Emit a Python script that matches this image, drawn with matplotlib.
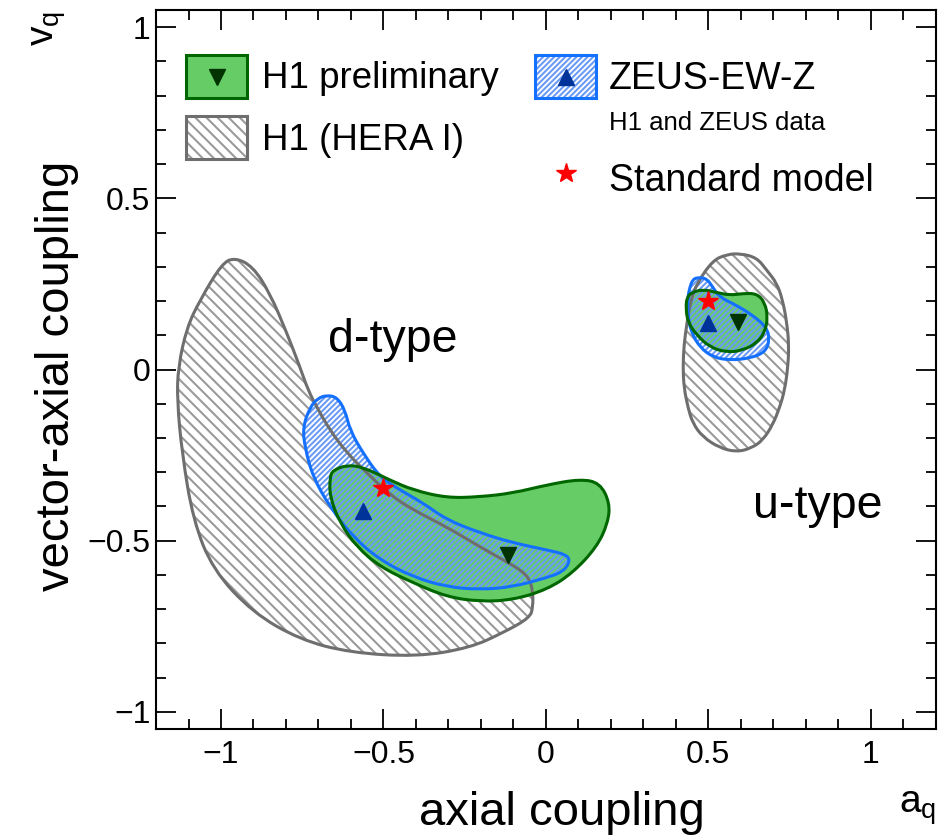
import numpy as np
import matplotlib.pyplot as plt
from matplotlib.patches import PathPatch, Rectangle
from matplotlib.path import Path
from matplotlib.ticker import MultipleLocator, FuncFormatter

plt.rcParams['font.family'] = ['Liberation Sans', 'DejaVu Sans']
plt.rcParams['hatch.linewidth'] = 1.5

# ---- contour outlines (a_q, v_q) ----
# H1 (HERA I), d-type
h1old_d_a = [-0.957, -0.902, -0.849, -0.797, -0.757, -0.732, -0.705, -0.665, -0.612, -0.551,
             -0.480, -0.409, -0.305, -0.203, -0.120, -0.074, -0.049, -0.040, -0.040, -0.049,
             -0.132, -0.234, -0.397, -0.603, -0.757, -0.902, -1.025, -1.086, -1.120, -1.135,
             -1.132, -1.105, -1.065, -0.997]
h1old_d_v = [0.327, 0.301, 0.222, 0.106, 0.007, -0.060, -0.110, -0.177, -0.244, -0.302,
             -0.366, -0.410, -0.460, -0.518, -0.562, -0.588, -0.614, -0.652, -0.693, -0.725,
             -0.769, -0.813, -0.839, -0.827, -0.789, -0.710, -0.585, -0.439, -0.244, -0.090,
             0.007, 0.123, 0.202, 0.310]
# H1 (HERA I), u-type
h1old_u_a = [0.597, 0.649, 0.680, 0.711, 0.729, 0.742, 0.748, 0.745, 0.735, 0.720, 0.698,
             0.668, 0.634, 0.588, 0.535, 0.483, 0.452, 0.437, 0.425, 0.422, 0.425, 0.434,
             0.446, 0.465, 0.514, 0.557]
h1old_u_v = [0.339, 0.327, 0.290, 0.252, 0.202, 0.135, 0.071, 0.007, -0.060, -0.110, -0.162,
             -0.206, -0.229, -0.241, -0.229, -0.197, -0.157, -0.110, -0.052, 0.007, 0.071,
             0.135, 0.202, 0.252, 0.319, 0.336]

# H1 preliminary, d-type
h1_d_a = [-0.655, -0.612, -0.563, -0.480, -0.409, -0.305, -0.203, -0.102, 0.003, 0.105,
          0.166, 0.197, 0.191, 0.157, 0.083, 0.003, -0.102, -0.203, -0.305, -0.409,
          -0.511, -0.582, -0.634, -0.665, -0.665]
h1_d_v = [-0.294, -0.279, -0.285, -0.323, -0.352, -0.375, -0.372, -0.361, -0.337, -0.320,
          -0.331, -0.390, -0.448, -0.518, -0.594, -0.643, -0.673, -0.678, -0.664, -0.623,
          -0.576, -0.518, -0.448, -0.372, -0.314]
# H1 preliminary, u-type
h1_u_a = [0.434, 0.449, 0.483, 0.526, 0.566, 0.606, 0.649, 0.674, 0.683, 0.674, 0.649,
          0.606, 0.557, 0.505, 0.465, 0.437, 0.431]
h1_u_v = [0.211, 0.225, 0.234, 0.225, 0.217, 0.222, 0.222, 0.196, 0.152, 0.109, 0.077,
          0.056, 0.050, 0.065, 0.100, 0.138, 0.179]

# ZEUS-EW-Z, d-type
zeus_d_a = [-0.674, -0.643, -0.618, -0.603, -0.563, -0.511, -0.449, -0.378, -0.305, -0.203,
            -0.102, 0.003, 0.065, 0.074, 0.052, 0.003, -0.102, -0.203, -0.305, -0.409,
            -0.511, -0.594, -0.665, -0.717, -0.742, -0.748, -0.726, -0.702]
zeus_d_v = [-0.075, -0.081, -0.119, -0.177, -0.244, -0.314, -0.352, -0.390, -0.439, -0.477,
            -0.506, -0.527, -0.541, -0.562, -0.591, -0.608, -0.635, -0.643, -0.635, -0.606,
            -0.556, -0.489, -0.401, -0.314, -0.227, -0.168, -0.110, -0.084]
# ZEUS-EW-Z, u-type
zeus_u_a = [0.468, 0.495, 0.514, 0.535, 0.588, 0.637, 0.680, 0.689, 0.674, 0.628, 0.566,
            0.514, 0.474, 0.449, 0.437, 0.437, 0.443, 0.452]
zeus_u_v = [0.269, 0.266, 0.240, 0.211, 0.187, 0.158, 0.123, 0.085, 0.050, 0.033, 0.027,
            0.036, 0.065, 0.106, 0.152, 0.211, 0.240, 0.263]

# central values
h1_best_a = [-0.117, 0.591]
h1_best_v = [-0.541, 0.138]
zeus_best_a = [-0.563, 0.498]
zeus_best_v = [-0.413, 0.135]
sm_a = [-0.5, 0.5]
sm_v = [-0.346, 0.200]

GREEN_FILL = '#66cc66'
GREEN_EDGE = '#006600'
BLUE_EDGE = '#1470ff'
BLUE_HATCH = '#6b9bf5'
GRAY_EDGE = '#6e6e6e'
GRAY_HATCH = '#9a9a9a'
GRAY_PAT = '\\\\\\'
BLUE_PAT = '//////'


def contour_path(a, v):
    # closed smooth outline: traced points used as quadratic bezier controls
    p = np.column_stack([a, v])
    mid = (p + np.roll(p, -1, axis=0)) / 2
    verts = [mid[-1]]
    codes = [Path.MOVETO]
    for i in range(len(p)):
        verts += [p[i], mid[i]]
        codes += [Path.CURVE3, Path.CURVE3]
    verts.append(mid[-1])
    codes.append(Path.CLOSEPOLY)
    return Path(verts, codes)


fig = plt.figure(figsize=(9.41, 8.36), dpi=100)
ax = fig.add_axes([0.1658, 0.128, 0.8286, 0.860])
ax.set_xlim(-1.2, 1.2)
ax.set_ylim(-1.05, 1.05)

for a, v in [(h1old_d_a, h1old_d_v), (h1old_u_a, h1old_u_v)]:
    pth = contour_path(a, v)
    ax.add_patch(PathPatch(pth, facecolor='none', edgecolor=GRAY_HATCH,
                           hatch=GRAY_PAT, lw=0, zorder=1))
    ax.add_patch(PathPatch(pth, facecolor='none', edgecolor=GRAY_EDGE, lw=2.2, zorder=5))
for a, v in [(zeus_d_a, zeus_d_v), (zeus_u_a, zeus_u_v)]:
    pth = contour_path(a, v)
    ax.add_patch(PathPatch(pth, facecolor='white', lw=0, zorder=2))
    ax.add_patch(PathPatch(pth, facecolor='none', edgecolor=BLUE_HATCH,
                           hatch=BLUE_PAT, lw=0, zorder=4))
    ax.add_patch(PathPatch(pth, facecolor='none', edgecolor=BLUE_EDGE, lw=2.2, zorder=6))
for a, v in [(h1_d_a, h1_d_v), (h1_u_a, h1_u_v)]:
    pth = contour_path(a, v)
    ax.add_patch(PathPatch(pth, facecolor=GREEN_FILL, lw=0, zorder=3))
    ax.add_patch(PathPatch(pth, facecolor='none', edgecolor=GREEN_EDGE, lw=2.2, zorder=7))

ax.plot(h1_best_a, h1_best_v, 'v', color='#003300', ms=11.5, ls='none', zorder=8)
ax.plot(zeus_best_a, zeus_best_v, '^', color='#003399', ms=11.5, ls='none', zorder=8)
ax.plot(sm_a, sm_v, '*', color='red', ms=15, mec='red', ls='none', zorder=9)

ax.text(-0.671, 0.050, 'd-type', fontsize=33.5, ha='left', va='baseline')
ax.text(0.637, -0.434, 'u-type', fontsize=33.5, ha='left', va='baseline')

# legend, drawn by hand in ROOT layout
T = ax.transAxes
bw, bh = 0.0785, 0.0598
ax.add_patch(Rectangle((0.0385, 0.8776), bw, bh, transform=T, facecolor=GREEN_FILL,
                       edgecolor=GREEN_EDGE, lw=2.2, zorder=10))
ax.add_patch(Rectangle((0.0385, 0.7928), bw, bh, transform=T, facecolor='white',
                       edgecolor=GRAY_HATCH, hatch=GRAY_PAT, lw=0, zorder=10))
ax.add_patch(Rectangle((0.0385, 0.7928), bw, bh, transform=T, facecolor='none',
                       edgecolor=GRAY_EDGE, lw=2.2, zorder=11))
ax.add_patch(Rectangle((0.486, 0.8776), bw, bh, transform=T, facecolor='white',
                       edgecolor=BLUE_HATCH, hatch=BLUE_PAT, lw=0, zorder=10))
ax.add_patch(Rectangle((0.486, 0.8776), bw, bh, transform=T, facecolor='none',
                       edgecolor=BLUE_EDGE, lw=2.2, zorder=11))
ax.plot([0.0776], [0.9075], 'v', color='#003300', ms=11.5, transform=T, zorder=12)
ax.plot([0.526], [0.9075], '^', color='#003399', ms=11.5, transform=T, zorder=12)
ax.plot([0.526], [0.7733], '*', color='red', ms=15, transform=T, zorder=12)

ax.text(0.136, 0.8915, 'H1 preliminary', fontsize=26.5, transform=T, va='baseline')
ax.text(0.136, 0.8053, 'H1 (HERA I)', fontsize=26.5, transform=T, va='baseline')
ax.text(0.581, 0.890, 'ZEUS-EW-Z', fontsize=27, transform=T, va='baseline')
ax.text(0.581, 0.8331, 'H1 and ZEUS data', fontsize=18.5, transform=T, va='baseline')
ax.text(0.581, 0.7483, 'Standard model', fontsize=27, transform=T, va='baseline')

# axes cosmetics
for s in ax.spines.values():
    s.set_linewidth(1.5)
ax.xaxis.set_major_locator(MultipleLocator(0.5))
ax.xaxis.set_minor_locator(MultipleLocator(0.1))
ax.yaxis.set_major_locator(MultipleLocator(0.5))
ax.yaxis.set_minor_locator(MultipleLocator(0.1))
fmt = FuncFormatter(lambda x, p: f'{x:g}'.replace('-', '\u2212'))
ax.xaxis.set_major_formatter(fmt)
ax.yaxis.set_major_formatter(fmt)
ax.tick_params(which='both', direction='in', top=True, right=True, width=1.3)
ax.tick_params(which='major', length=14.5, labelsize=23)
ax.tick_params(which='minor', length=7.5)
ax.tick_params(axis='x', pad=8)
ax.tick_params(axis='y', pad=4)

ax.text(0.5207, -0.1335, 'axial coupling', fontsize=34, transform=T, ha='center', va='baseline')
ax.text(-0.127, 0.491, 'vector-axial coupling', fontsize=34, transform=T, rotation=90,
        ha='center', va='center')
ax.text(0.977, -0.110, r'a$_\mathregular{q}$', fontsize=28, transform=T, ha='center', va='center')
ax.text(-0.1375, 0.974, r'v$_\mathregular{q}$', fontsize=28, transform=T, rotation=90,
        ha='center', va='center')

fig.savefig('out.png', dpi=100)
